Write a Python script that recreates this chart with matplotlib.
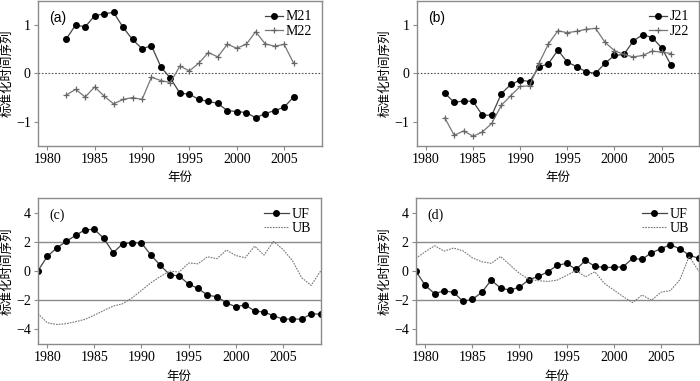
import numpy as np
import matplotlib
matplotlib.use("Agg")
import matplotlib.pyplot as plt

plt.rcParams['font.family'] = ['Liberation Serif', 'Noto Sans CJK SC', 'DejaVu Sans']
plt.rcParams['axes.unicode_minus'] = True

# data
yrs_top = np.arange(1982, 2007)
m21 = [0.71, 1.00, 0.96, 1.19, 1.23, 1.26, 0.95, 0.70, 0.51, 0.57, 0.13, -0.10, -0.41,
       -0.43, -0.54, -0.58, -0.62, -0.77, -0.79, -0.81, -0.92, -0.83, -0.77, -0.70, -0.49]
m22 = [-0.45, -0.33, -0.49, -0.28, -0.47, -0.63, -0.54, -0.50, -0.54, -0.08, -0.15, -0.19, 0.15,
       0.05, 0.21, 0.43, 0.34, 0.60, 0.52, 0.60, 0.86, 0.61, 0.56, 0.60, 0.21]
j21 = [-0.41, -0.60, -0.57, -0.58, -0.87, -0.86, -0.42, -0.23, -0.14, -0.17, 0.13, 0.20, 0.48,
       0.23, 0.14, 0.03, 0.00, 0.21, 0.37, 0.39, 0.67, 0.80, 0.74, 0.53, 0.17]
j22 = [-0.92, -1.28, -1.19, -1.30, -1.21, -1.03, -0.66, -0.46, -0.27, -0.26, 0.21, 0.61, 0.88,
       0.84, 0.87, 0.91, 0.93, 0.64, 0.47, 0.39, 0.34, 0.37, 0.46, 0.44, 0.41]

yrs_mk = np.arange(1979, 2010)
uf_c = [0.00, 1.00, 1.58, 2.03, 2.44, 2.83, 2.86, 2.24, 1.26, 1.87, 1.94, 1.92, 1.10, 0.39,
        -0.25, -0.34, -0.89, -1.19, -1.65, -1.76, -2.17, -2.45, -2.31, -2.74, -2.81, -3.06,
        -3.29, -3.29, -3.29, -2.93, -2.95]
ub_c = [-2.90, -3.54, -3.66, -3.61, -3.47, -3.31, -3.02, -2.70, -2.40, -2.24, -1.83, -1.33,
        -0.80, -0.37, 0.00, -0.07, 0.55, 0.50, 0.98, 0.85, 1.44, 1.07, 0.91, 1.71, 1.10, 2.03,
        1.49, 0.73, -0.46, -0.98, 0.00]
uf_d = [0.00, -0.98, -1.55, -1.35, -1.46, -2.06, -1.94, -1.46, -0.62, -1.17, -1.30, -1.10,
        -0.59, -0.37, -0.05, 0.39, 0.53, 0.11, 0.73, 0.32, 0.25, 0.25, 0.30, 0.87, 0.80, 1.26,
        1.53, 1.81, 1.53, 1.10, 0.87]
ub_d = [0.87, 1.33, 1.74, 1.37, 1.58, 1.39, 0.91, 0.64, 0.53, 1.00, 0.41, -0.16, -0.57, -0.66,
        -0.71, -0.62, -0.30, 0.05, -0.39, -0.05, -0.84, -1.30, -1.75, -2.16, -1.64, -2.00,
        -1.45, -1.34, -0.61, 1.02, 0.00]

ylab = '标准化时间序列'
xlab = '年份'
spine_c = '#8a8a8a'

fig = plt.figure(figsize=(7, 3.81), dpi=100)
ax_a = fig.add_axes([0.054, 0.617, 0.406, 0.381])
ax_b = fig.add_axes([0.595, 0.617, 0.404, 0.381])
ax_c = fig.add_axes([0.054, 0.097, 0.404, 0.383])
ax_d = fig.add_axes([0.594, 0.097, 0.404, 0.383])


def style(ax, tag):
    ax.set_xlim(1979, 2009)
    ax.set_xticks(range(1980, 2010, 5))
    for s in ax.spines.values():
        s.set_color(spine_c)
        s.set_linewidth(1.0)
    ax.tick_params(direction='out', color=spine_c, length=3, labelsize=10, pad=2)
    ax.set_ylabel(ylab, family=['Noto Sans CJK SC'], fontsize=9, labelpad=2)
    ax.set_xlabel(xlab, family=['Noto Sans CJK SC'], fontsize=9, labelpad=4)
    ax.text(0.04, 0.93, tag, transform=ax.transAxes, fontsize=10, va='top', ha='left',
            family=['Liberation Sans'] if tag in ('(a)', '(b)') else ['Liberation Serif'])


def top_panel(ax, s1, s2, n1, n2, tag):
    ax.axhline(0, color='#555555', lw=0.8, ls=(0, (1.5, 1.5)))
    ax.plot(yrs_top, s1, '-', color='#444444', lw=0.9, marker='o', ms=4,
            mfc='black', mec='black', label=n1)
    ax.plot(yrs_top, s2, '-', color='#777777', lw=0.9, marker='+', ms=5,
            mew=0.9, mec='#666666', label=n2)
    ax.set_ylim(-1.5, 1.5)
    ax.set_yticks([-1, 0, 1])
    style(ax, tag)
    ax.legend(loc='upper right', frameon=False, fontsize=10, handlelength=1.3,
              handletextpad=0.2, labelspacing=0.1, borderaxespad=0.3)


def bottom_panel(ax, uf, ub, tag):
    ax.axhline(2, color='#8a8a8a', lw=1.0)
    ax.axhline(-2, color='#8a8a8a', lw=1.0)
    ax.plot(yrs_mk, uf, '-', color='#444444', lw=0.9, marker='o', ms=4,
            mfc='black', mec='black', label='UF')
    ax.plot(yrs_mk, ub, color='#777777', lw=0.8, ls=(0, (1.5, 1.0)), label='UB')
    ax.set_ylim(-5, 5)
    ax.set_yticks([-4, -2, 0, 2, 4])
    style(ax, tag)
    ax.legend(loc='upper right', frameon=False, fontsize=10, handlelength=1.8,
              handletextpad=0.2, labelspacing=0.1, borderaxespad=0.3)


top_panel(ax_a, m21, m22, 'M21', 'M22', '(a)')
top_panel(ax_b, j21, j22, 'J21', 'J22', '(b)')
bottom_panel(ax_c, uf_c, ub_c, '(c)')
bottom_panel(ax_d, uf_d, ub_d, '(d)')

fig.savefig('out.png', dpi=100)
